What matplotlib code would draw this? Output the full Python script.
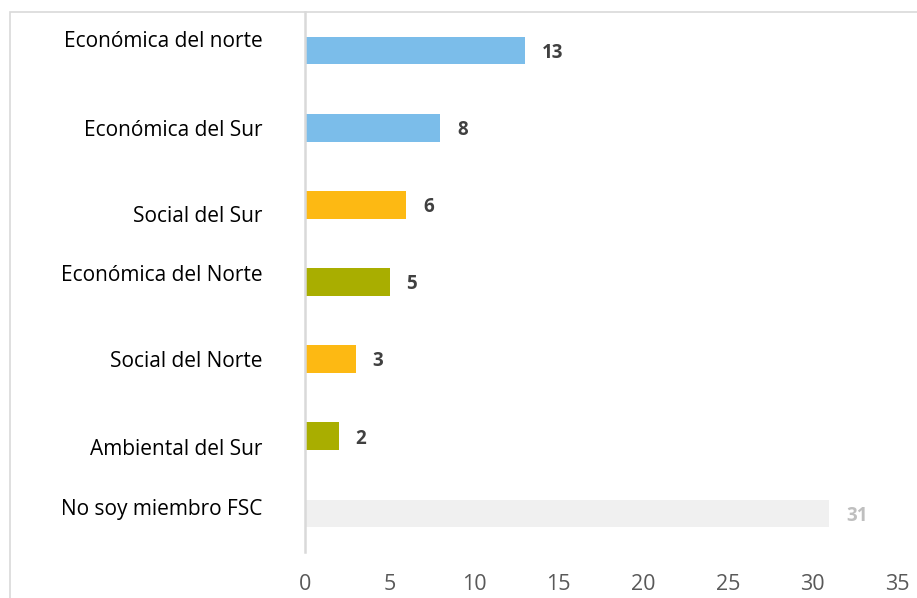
import numpy as np
import matplotlib.pyplot as plt
from matplotlib.patches import Rectangle

categorias = ['Económica del norte', 'Económica del Sur', 'Social del Sur',
              'Económica del Norte', 'Social del Norte', 'Ambiental del Sur',
              'No soy miembro FSC']
valores = [13, 8, 6, 5, 3, 2, 31]
colores = ['#7BBDEA', '#7BBDEA', '#FDB913', '#A9AE00', '#FDB913', '#A9AE00', '#F0F0F0']
color_etiqueta = ['#404040'] * 6 + ['#BFBFBF']
# the category labels sit a bit off the bar centres in the original
desfase = [-0.12, 0.03, 0.15, -0.09, 0.03, 0.17, -0.05]
ticks_x = [0, 5, 10, 15, 20, 25, 30, 35]

plt.rcParams['font.family'] = ['Open Sans', 'DejaVu Sans']

fig = plt.figure(figsize=(9.17, 5.98), dpi=100)
fig.patches.append(Rectangle((10/917, -0.05), 1.0, 0.05 + 1 - 12/598,
                             transform=fig.transFigure, fill=False,
                             edgecolor='#D9D9D9', linewidth=1.2))
ax = fig.add_axes([305/917, 1 - 552/598, 592/917, 540/598])

y = np.arange(len(categorias))
ax.barh(y, valores, height=0.36, color=colores)
for i in range(len(valores)):
    ax.text(valores[i] + 1.0, y[i] + 0.03, str(valores[i]), va='center', ha='left',
            fontsize=13.5, fontweight='bold', color=color_etiqueta[i])
    ax.text(-2.5, y[i] + desfase[i], categorias[i], va='center', ha='right',
            fontsize=15, color='#000000')

ax.set_xlim(0, 35)
ax.set_ylim(len(categorias) - 0.5, -0.5)
ax.set_yticks([])
ax.set_xticks(ticks_x)
ax.tick_params(axis='x', length=0, pad=16, labelsize=15.5, labelcolor='#595959')
for s in ['top', 'right', 'bottom']:
    ax.spines[s].set_visible(False)
ax.spines['left'].set_color('#D9D9D9')
ax.spines['left'].set_linewidth(1.8)

fig.savefig('out.png', dpi=100)
